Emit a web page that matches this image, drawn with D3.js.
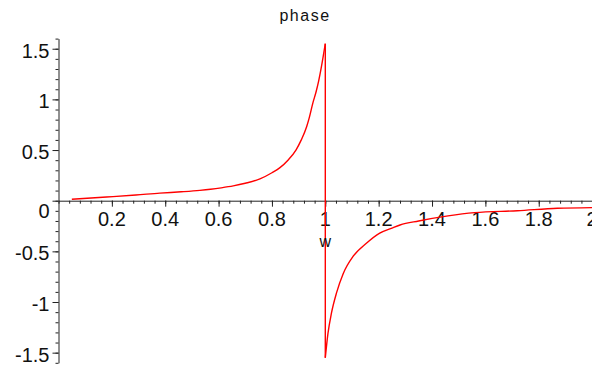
<!DOCTYPE html>
<html>
<head>
<meta charset="utf-8">
<script src="https://cdn.jsdelivr.net/npm/d3@7"></script>
<style>
  body { margin: 0; background: #fff; }
  svg { display: block; }
  text { font-family: "Liberation Sans", Arial, sans-serif; fill: #111; }
</style>
</head>
<body>
<svg id="chart" width="592" height="368"></svg>
<script>
// frequency values (w), left branch then right branch
const wLeft = [0.05, 0.18, 0.29, 0.38, 0.46, 0.53, 0.57, 0.61, 0.655, 0.7, 0.755, 0.8, 0.83, 0.86, 0.89, 0.91, 0.93, 0.94, 0.954, 0.965, 0.975, 0.986, 1.0];
const phaseLeft = [0.014, 0.036, 0.056, 0.075, 0.088, 0.102, 0.113, 0.127, 0.146, 0.172, 0.215, 0.276, 0.326, 0.4, 0.5, 0.6, 0.73, 0.82, 0.97, 1.07, 1.18, 1.33, 1.55];
const wRight = [1.0, 1.01, 1.023, 1.042, 1.067, 1.104, 1.154, 1.204, 1.25, 1.28, 1.35, 1.46, 1.56, 1.72, 1.87, 2.0];
const phaseRight = [-1.55, -1.31, -1.11, -0.91, -0.72, -0.55, -0.42, -0.32, -0.27, -0.24, -0.2, -0.15, -0.118, -0.099, -0.075, -0.068];

const xTicks = [0.2, 0.4, 0.6, 0.8, 1, 1.2, 1.4, 1.6, 1.8, 2];
const xTickLabels = ["0.2", "0.4", "0.6", "0.8", "1", "1.2", "1.4", "1.6", "1.8", "2"];
const yTicks = [-1.5, -1, -0.5, 0, 0.5, 1, 1.5];
const yTickLabels = ["-1.5", "-1", "-0.5", "0", "0.5", "1", "1.5"];

const svg = d3.select('#chart');

const x = d3.scaleLinear().domain([0, 2]).range([58.5, 592.1]);
const y = d3.scaleLinear().domain([-1.6, 1.6]).range([362.8, 38.6]);

// minor ticks, no labels
const xMinor = d3.range(0, 2.001, 0.04);
const yMinor = d3.range(-1.6, 1.601, 0.1);

svg.append('g')
  .attr('transform', `translate(0,${y(0)})`)
  .call(d3.axisBottom(x).tickValues(xMinor).tickSize(3).tickFormat(''))
  .call(g => g.select('.domain').remove());

svg.append('g')
  .attr('transform', `translate(${x(0)},0)`)
  .call(d3.axisLeft(y).tickValues(yMinor).tickSize(3).tickFormat(''))
  .call(g => g.select('.domain').remove());

// major ticks + axis lines
svg.append('g')
  .attr('transform', `translate(0,${y(0)})`)
  .call(d3.axisBottom(x).tickValues(xTicks).tickSizeInner(6).tickSizeOuter(0).tickFormat(''));

svg.append('g')
  .attr('transform', `translate(${x(0)},0)`)
  .call(d3.axisLeft(y).tickValues(yTicks).tickSizeInner(6).tickSizeOuter(0).tickFormat(''));

svg.selectAll('.tick line, .domain').attr('stroke', '#222');

// tick labels placed like the maple output (the 0 sits under the x axis)
svg.append('g').selectAll('text')
  .data(xTicks)
  .join('text')
  .attr('x', d => x(d))
  .attr('y', y(0) + 25.5)
  .attr('text-anchor', 'middle')
  .style('font-size', '20px')
  .text((d, i) => xTickLabels[i]);

svg.append('g').selectAll('text')
  .data(yTicks)
  .join('text')
  .attr('x', 49.5)
  .attr('y', d => d === 0 ? y(d) + 17.5 : y(d) + 9)
  .attr('text-anchor', 'end')
  .style('font-size', '20px')
  .text((d, i) => yTickLabels[i]);

const left = wLeft.map((w, i) => [w, phaseLeft[i]]);
const right = wRight.map((w, i) => [w, phaseRight[i]]);

const line = d3.line()
  .x(d => x(d[0]))
  .y(d => y(d[1]))
  .curve(d3.curveMonotoneX);

svg.selectAll('.branch')
  .data([left, right])
  .join('path')
  .attr('class', 'branch')
  .attr('fill', 'none')
  .attr('stroke', '#ff0000')
  .attr('stroke-width', 1.4)
  .attr('d', line);

// maple joins the two branches across the jump at w = 1
svg.append('path')
  .datum([left[left.length - 1], right[0]])
  .attr('fill', 'none')
  .attr('stroke', '#ff0000')
  .attr('stroke-width', 1.4)
  .attr('d', d3.line().x(d => x(d[0])).y(d => y(d[1])));

svg.append('text')
  .text('w')
  .attr('x', x(1))
  .attr('y', 247)
  .attr('text-anchor', 'middle')
  .style('font-size', '16px');

svg.append('text')
  .text('phase')
  .attr('x', 305)
  .attr('y', 21)
  .attr('text-anchor', 'middle')
  .style('font-size', '16px')
  .style('letter-spacing', '1.5px');
</script>
</body>
</html>
